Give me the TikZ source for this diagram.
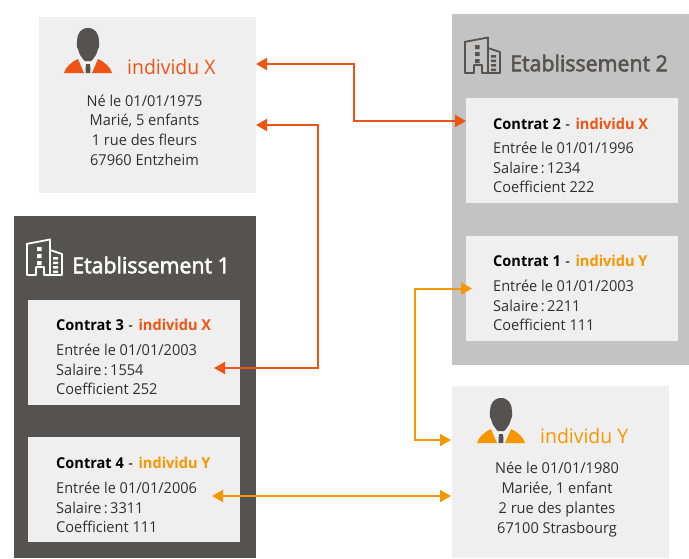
\documentclass[tikz,border=0pt]{standalone}
\usepackage{fontspec}
\setmainfont[FakeStretch=0.97]{Open Sans}
\newfontfamily\semif[FakeStretch=0.97,FakeBold=2.5]{Open Sans}
\usetikzlibrary{arrows.meta}
\definecolor{cx}{HTML}{EE5413}
\definecolor{cy}{HTML}{F59700}
\definecolor{dk}{HTML}{545351}
\definecolor{gr}{HTML}{C3C3C3}
\definecolor{lt}{HTML}{EFEFEF}
\definecolor{tx}{HTML}{303030}
\newcommand{\sal}[1]{Salaire\hspace{2.4pt}:\hspace{2.4pt}#1}
\newcommand{\ctr}[3]{\textbf{Contrat #1}\hspace{4.5pt}-\hspace{5.5pt}\textbf{\color{#2}individu #3}}
\tikzset{
  lightbox/.style={fill=lt,rectangle,inner sep=0pt,outer sep=0pt,minimum width=212pt,minimum height=105pt},
  info/.style={text=tx,align=center,font=\fontsize{15}{19.7}\selectfont,inner sep=0pt},
  cbody/.style={text=tx,align=left,anchor=north west,font=\fontsize{15}{19.55}\selectfont,inner sep=0pt},
  ctitle/.style={text=black,anchor=west,font=\fontsize{15}{17}\selectfont,inner sep=0pt},
  indiv/.style={anchor=west,font=\fontsize{20}{24}\selectfont,inner sep=0pt},
  etab/.style={anchor=west,font=\fontsize{22}{26}\semif,inner sep=0pt},
  link/.style={line width=2pt,#1,{Triangle[length=11pt,width=12pt]}-{Triangle[length=11pt,width=12pt]}},
  linkx/.style={link=cx},
  linky/.style={link=cy},
  pics/person/.style={code={
    \fill[dk] (0,0) .. controls (-7.5,0) and (-11,6) .. (-11,13)
       .. controls (-11,15) and (-11.8,16) .. (-11.2,18.5)
       .. controls (-10.8,20) and (-10.2,20.5) .. (-9.8,21.5)
       .. controls (-8.8,26) and (-7,29) .. (-5,31) -- (-3,33) -- (3,33) -- (5,31)
       .. controls (7,29) and (8.8,26) .. (9.8,21.5)
       .. controls (10.2,20.5) and (10.8,20) .. (11.2,18.5)
       .. controls (11.8,16) and (11,15) .. (11,13)
       .. controls (11,6) and (7.5,0) .. (0,0) -- cycle;
    \fill[#1] (-24,45) .. controls (-22,39) and (-18,35) .. (-10,31) -- (-4,45) -- cycle;
    \fill[#1] (24,45) .. controls (22,39) and (18,35) .. (10,31) -- (4,45) -- cycle;
    \fill[dk] (-1.8,36) -- (1.8,36) -- (2.5,40) -- (2.3,45) -- (-2.3,45) -- (-2.5,40) -- cycle;
  }},
  pics/building/.style={code={
    \draw[#1,line width=1.8pt,line join=round] (0,5) -- (0,36) -- (9,36) -- (9,28) -- (17,28) -- (17,36) -- (35,36) -- (35,15) -- (23,11);
    \draw[#1,line width=1.8pt,line join=round] (-0.9,5) -- (23,0.5) -- (23,36);
    \fill[#1] (10,8) rectangle (14.5,12) (10,15) rectangle (14.5,19) (10,22) rectangle (14.5,26);
    \fill[#1] (26,18) rectangle (31,20.5) (26,22.5) rectangle (31,25) (26,27) rectangle (31,29.5) (26,31.5) rectangle (31,34);
  }}
}
\begin{document}
\begin{tikzpicture}[x=1pt,y=-1pt]
\useasboundingbox (0,0) rectangle (689,558);
% panels
\fill[lt] (39,17) rectangle (256,193);
\path (256,17) coordinate (ixne);
\fill[dk] (14,216) rectangle (256,558);
\fill[gr] (452,14) rectangle (689,365);
\fill[lt] (452,386) rectangle (669,558);
\path (452,386) coordinate (iynw);
\node[lightbox] (c3) at (134,352.5) {};
\node[lightbox] (c4) at (134,489.5) {};
\node[lightbox] (c2) at (572,150.5) {};
\node[lightbox] (c1) at (572,288.5) {};
% icons
\pic at (88,28) {person=cx};
\pic at (501,398) {person=cy};
\pic at (27,239) {building=white};
\pic at (465,37) {building=dk};
% headings
\node[indiv,text=cx] (ixn) at (127,67) {individu X};
\node[indiv,text=cy] (iyn) at (540,436) {individu Y};
\node[etab,text=white] (e1) at (72,265) {Etablissement 1};
\node[etab,text=dk] (e2) at (510,63) {Etablissement 2};
% individuals
\node[info] (ixt) at (144.5,130) {Né le 01/01/1975\\Marié, 5 enfants\\1 rue des fleurs\\67960 Entzheim};
\node[info] (iyt) at (557,499.5) {Née le 01/01/1980\\Mariée, 1 enfant\\2 rue des plantes\\67100 Strasbourg};
% contracts
\node[ctitle] (t2) at (493,124) {\ctr{2}{cx}{X}};
\node[cbody] (b2) at (493,142) {Entrée le 01/01/1996\\\sal{1234}\\Coefficient 222};
\node[ctitle] (t1) at (493,261) {\ctr{1}{cy}{Y}};
\node[cbody] (b1) at (493,280) {Entrée le 01/01/2003\\\sal{2211}\\Coefficient 111};
\node[ctitle] (t3) at (56,325) {\ctr{3}{cx}{X}};
\node[cbody] (b3) at (56,344) {Entrée le 01/01/2003\\\sal{1554}\\Coefficient 252};
\node[ctitle] (t4) at (56,463) {\ctr{4}{cy}{Y}};
\node[cbody] (b4) at (56,482) {Entrée le 01/01/2006\\\sal{3311}\\Coefficient 111};
% connectors
\draw[linkx] ([yshift=-47pt]ixne) -- ++(98,0) |- ([yshift=29.5pt]c2.west);
\draw[linkx] ([yshift=-108pt]ixne) -- ++(62,0) |- ([xshift=-26pt,yshift=-15.5pt]c3.east);
\draw[linky] ([xshift=6pt]c1.west) -- ++(-57,0) |- ([xshift=-1pt,yshift=-54pt]iynw);
\draw[linky] ([xshift=-28pt,yshift=-6.5pt]c4.east) -- ([xshift=-1pt,yshift=-110pt]iynw);
\end{tikzpicture}
\end{document}
